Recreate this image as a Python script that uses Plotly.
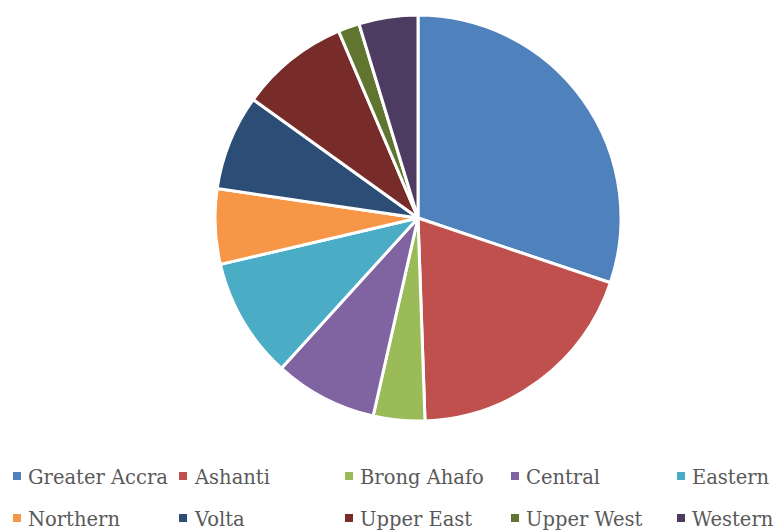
import plotly.graph_objects as go

# Share of each region (percent), clockwise from 12 o'clock
regions = ["Greater Accra", "Ashanti", "Brong Ahafo", "Central", "Eastern",
           "Northern", "Volta", "Upper East", "Upper West", "Western"]
shares = [30.2, 19.3, 4.1, 8.2, 9.6, 6.0, 7.6, 8.7, 1.7, 4.7]
colors = ["#4F81BD", "#C0504D", "#9BBB59", "#8064A2", "#4BACC6",
          "#F79646", "#2C4D75", "#772C2A", "#5F7530", "#4D3B62"]

W, H = 783, 532

fig = go.Figure(go.Pie(
    labels=regions,
    values=shares,
    sort=False,
    direction="clockwise",
    rotation=0,
    textinfo="none",
    hoverinfo="label+percent",
    marker=dict(colors=colors, line=dict(color="white", width=3)),
    domain=dict(x=[215 / W, 621 / W], y=[(H - 421) / H, (H - 15) / H]),
    showlegend=False,
))

# Two-row legend laid out in five columns
col_x = [17, 183, 349, 515, 681]
row_y = [476, 518]
shapes, annotations = [], []
for i, (name, c) in enumerate(zip(regions, colors)):
    cx = col_x[i % 5]
    cy = row_y[i // 5]
    shapes.append(dict(type="rect", xref="paper", yref="paper",
                       x0=(cx - 4) / W, x1=(cx + 4) / W,
                       y0=(H - cy - 4) / H, y1=(H - cy + 4) / H,
                       fillcolor=c, line=dict(width=0)))
    annotations.append(dict(x=(cx + 9) / W, y=(H - cy - 1) / H, xref="paper", yref="paper",
                            text=name, showarrow=False, xanchor="left", yanchor="middle",
                            font=dict(family="DejaVu Serif", size=19.5, color="#595959")))

fig.update_layout(
    width=W, height=H,
    margin=dict(l=0, r=0, t=0, b=0),
    paper_bgcolor="white",
    plot_bgcolor="white",
    shapes=shapes,
    annotations=annotations,
)

fig.write_html("out.html")
